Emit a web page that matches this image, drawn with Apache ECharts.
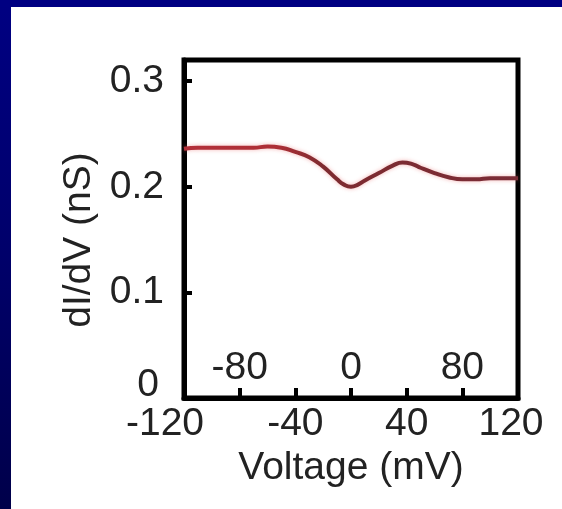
<!DOCTYPE html>
<html>
<head>
<meta charset="utf-8">
<script src="https://cdn.jsdelivr.net/npm/echarts@6/dist/echarts.min.js"></script>
<style>
  html, body { margin: 0; padding: 0; background: #ffffff; }
  #leftbar { position: fixed; left: 0; top: 0; width: 11px; height: 509px; background: linear-gradient(to bottom, #000082 0%, #00006a 50%, #00004a 100%); }
  #topbar { position: fixed; left: 0; top: 0; width: 100%; min-width: 562px; height: 7px; background: #000082; }
  #chart { position: fixed; left: 0; top: 0; width: 562px; height: 509px; }
</style>
</head>
<body>
<div id="leftbar"></div>
<div id="topbar"></div>
<div id="chart"></div>
<script>
// Data
const voltage = [-120, -110, -100, -90, -80, -70, -60, -50, -40, -30, -20, -10, -5, 0, 5, 10, 20, 30, 37, 45, 50, 60, 70, 80, 90, 100, 110, 120];
const conductance = [0.236, 0.237, 0.237, 0.237, 0.237, 0.237, 0.238, 0.237, 0.233, 0.228, 0.219, 0.207, 0.202, 0.200, 0.202, 0.206, 0.213, 0.220, 0.223, 0.221, 0.218, 0.213, 0.209, 0.207, 0.207, 0.208, 0.208, 0.208];

const xLabelsLow = [-120, -40, 40, 120];
const xLabelsHigh = [-80, 0, 80];
const yLabels = [0, 0.1, 0.2, 0.3];

const xTitle = 'Voltage (mV)';
const yTitle = 'dI/dV (nS)';

const FONT = "'Liberation Sans', Arial, sans-serif";
const FS = 39;

const chart = echarts.init(document.getElementById('chart'), null, { renderer: 'canvas' });

const near = (a, b) => Math.abs(a - b) < 1e-6;

const option = {
  backgroundColor: 'transparent',
  animation: false,
  grid: {
    left: 184, right: 44, top: 60, bottom: 111,
    show: true, borderColor: '#000', borderWidth: 5, backgroundColor: 'transparent'
  },
  xAxis: [
    {
      type: 'value', min: -120, max: 120, interval: 40, position: 'bottom',
      name: xTitle, nameLocation: 'middle', nameGap: 43,
      nameTextStyle: { fontFamily: FONT, fontSize: FS, color: '#222' },
      axisLine: { show: true, onZero: false, lineStyle: { color: '#000', width: 5 } },
      axisTick: { show: true, inside: true, length: 10, lineStyle: { color: '#000', width: 4 } },
      splitLine: { show: false },
      axisLabel: {
        margin: 7, fontFamily: FONT, fontSize: FS, color: '#222',
        formatter: function (v) {
          if (!xLabelsLow.some(t => near(t, v))) return '';
          if (near(v, -120)) return '{a|' + v + '}';
          if (near(v, 120)) return '{b|' + v + '}';
          return String(v);
        },
        rich: {
          a: { fontFamily: FONT, fontSize: FS, color: '#222', padding: [0, 38, 0, 0] },
          b: { fontFamily: FONT, fontSize: FS, color: '#222', padding: [0, 14, 0, 0] }
        }
      }
    },
    {
      type: 'value', min: -120, max: 120, interval: 40, position: 'bottom',
      axisLine: { show: false, onZero: false }, axisTick: { show: false }, splitLine: { show: false },
      axisLabel: {
        inside: true, margin: 10, fontFamily: FONT, fontSize: FS, color: '#222',
        formatter: function (v) {
          return xLabelsHigh.some(t => near(t, v)) ? String(v) : '';
        }
      }
    }
  ],
  yAxis: {
    type: 'value', min: 0, max: 0.32, interval: 0.1, position: 'left',
    name: yTitle, nameLocation: 'middle', nameGap: 82, nameRotate: 90,
    nameTextStyle: { fontFamily: FONT, fontSize: FS, color: '#222', padding: [0, 22, 0, 0] },
    axisLine: { show: true, onZero: false, lineStyle: { color: '#000', width: 5 } },
    axisTick: { show: true, inside: true, length: 8, lineStyle: { color: '#000', width: 4 } },
    splitLine: { show: false },
    axisLabel: {
      margin: 20, fontFamily: FONT, fontSize: FS, color: '#222', showMaxLabel: false,
      formatter: function (v) {
        const hit = yLabels.find(t => near(t, v));
        if (hit === undefined) return '';
        if (hit === 0) return '{z|0}';
        return hit.toFixed(1);
      },
      rich: {
        z: { fontFamily: FONT, fontSize: FS, color: '#222', padding: [0, 5, 26, 0] }
      }
    }
  },
  series: [{
    type: 'line',
    xAxisIndex: 0, yAxisIndex: 0,
    data: voltage.map((v, i) => [v, conductance[i]]),
    smooth: true,
    showSymbol: false,
    lineStyle: {
      width: 4,
      color: new echarts.graphic.LinearGradient(0, 0, 1, 0, [
        { offset: 0, color: '#b3303a' },
        { offset: 0.28, color: '#ad2f36' },
        { offset: 0.42, color: '#7d2b30' },
        { offset: 1, color: '#7a2c36' }
      ]),
      shadowBlur: 4, shadowColor: 'rgba(230,90,90,0.45)'
    }
  }]
};

chart.setOption(option);
</script>
</body>
</html>
